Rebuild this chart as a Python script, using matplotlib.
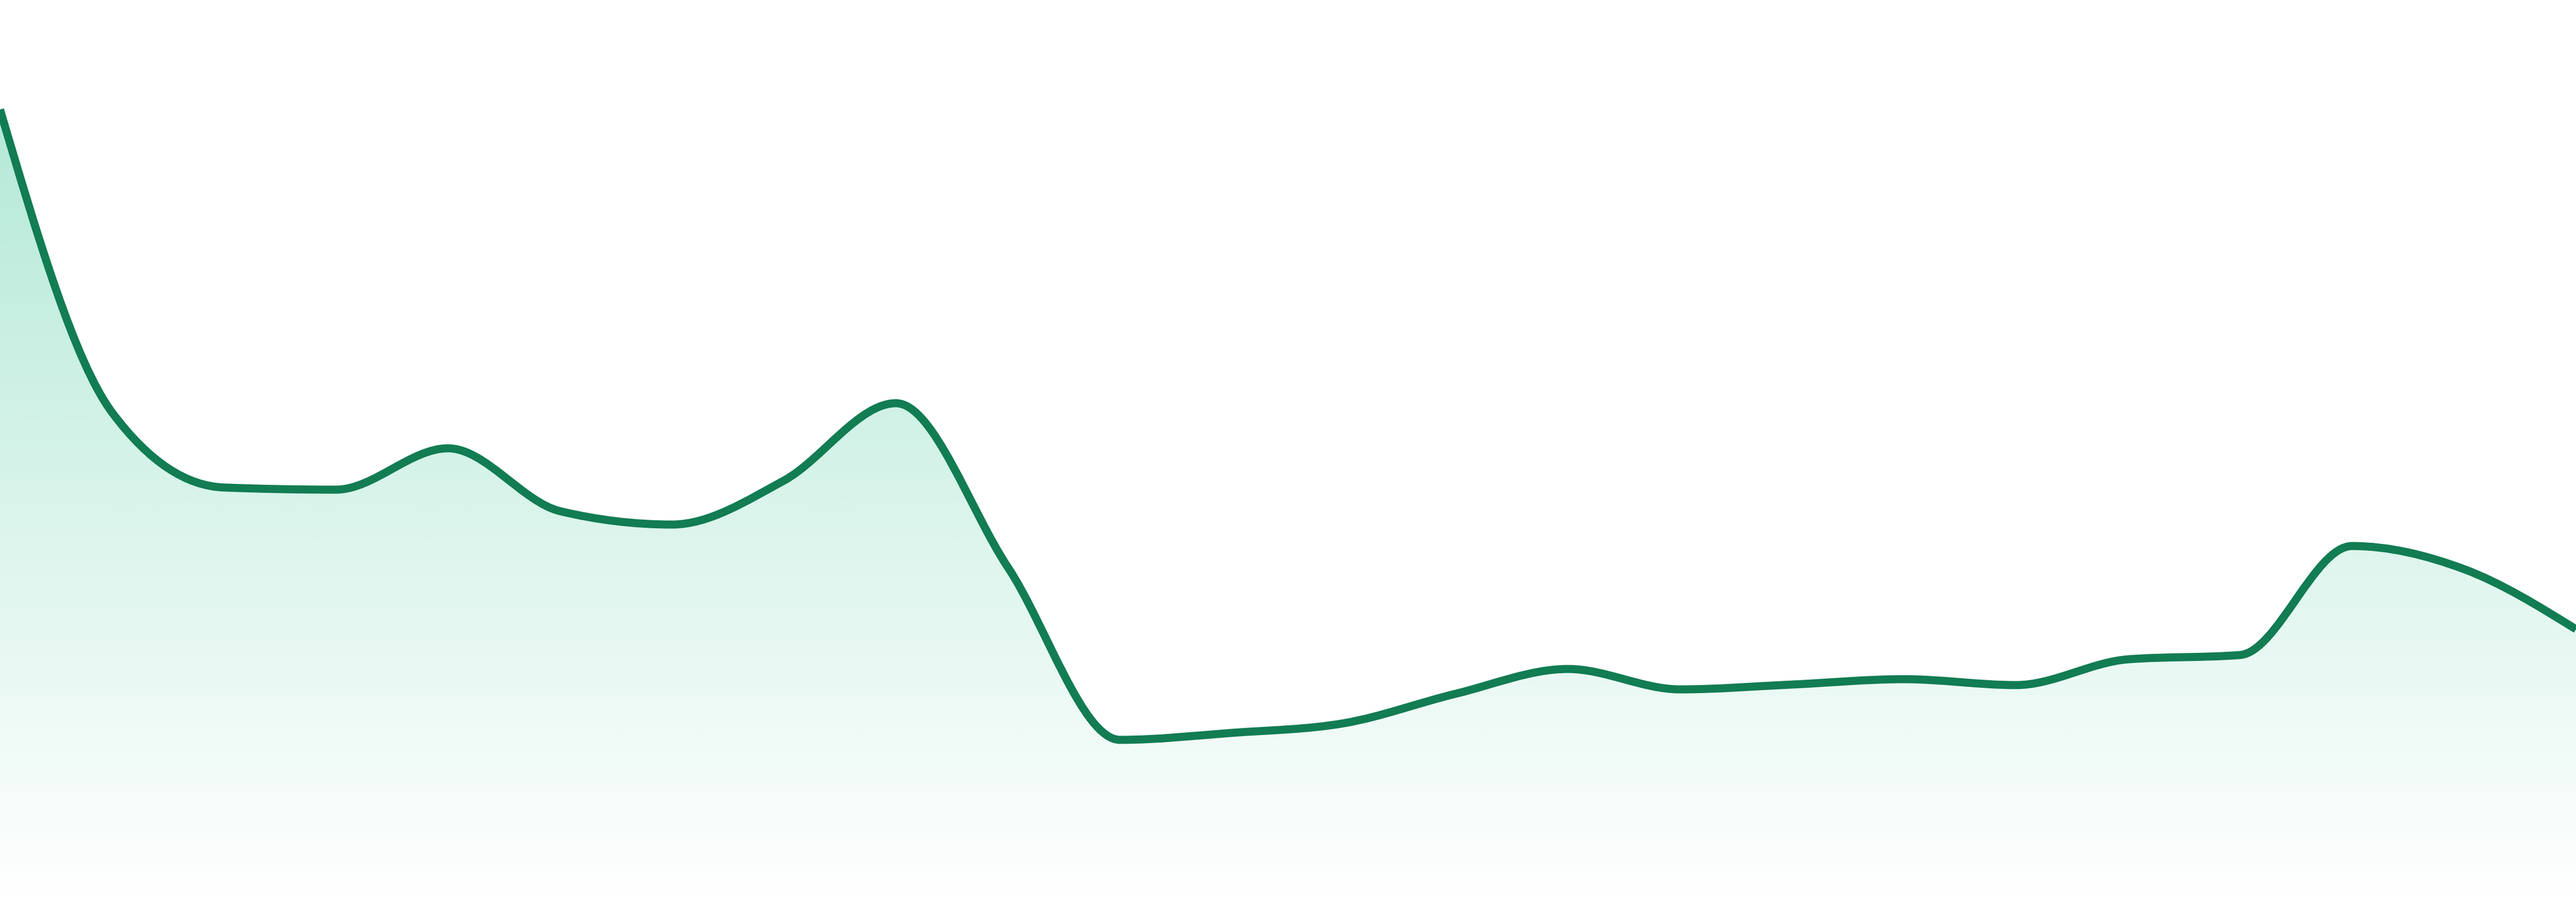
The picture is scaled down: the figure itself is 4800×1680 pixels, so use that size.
import numpy as np
import matplotlib
matplotlib.use("Agg")
import matplotlib.pyplot as plt
from matplotlib.path import Path
from matplotlib.patches import PathPatch

# series (one point per period, evenly spaced)
periods = list(range(24))
values = [147.6, 91.2, 77.2, 76.8, 84.5, 72.8, 70.3, 78.5, 92.9, 62.3,
          30.2, 31.5, 33.3, 38.8, 43.4, 39.6, 40.5, 41.5, 40.4, 45.2,
          46.0, 66.3, 62.0, 50.8]

line_color = "#127c53"
fill_rgb = (16 / 255, 185 / 255, 129 / 255)
y_top = 168.0


def monotone_x_path(xs, ys):
    """Cubic bezier path through the points, d3 curveMonotoneX style."""
    xs = np.asarray(xs, float)
    ys = np.asarray(ys, float)
    n = len(xs)
    h = np.diff(xs)
    s = np.diff(ys) / h
    t = np.zeros(n)
    for i in range(1, n - 1):
        h0, h1 = h[i - 1], h[i]
        s0, s1 = s[i - 1], s[i]
        p = (s0 * h1 + s1 * h0) / (h0 + h1)
        t[i] = (np.sign(s0) + np.sign(s1)) * min(abs(s0), abs(s1), 0.5 * abs(p))
    t[0] = (3 * s[0] - t[1]) / 2
    t[-1] = (3 * s[-1] - t[-2]) / 2
    verts = [(xs[0], ys[0])]
    codes = [Path.MOVETO]
    for i in range(n - 1):
        dx = h[i] / 3
        verts += [(xs[i] + dx, ys[i] + dx * t[i]),
                  (xs[i + 1] - dx, ys[i + 1] - dx * t[i + 1]),
                  (xs[i + 1], ys[i + 1])]
        codes += [Path.CURVE4] * 3
    return verts, codes


fig = plt.figure(figsize=(16, 5.6), dpi=300)
ax = fig.add_axes([0, 0, 1, 1])
ax.set_xlim(periods[0], periods[-1])
ax.set_ylim(0, y_top)
ax.axis("off")

verts, codes = monotone_x_path(periods, values)

# area under the curve, filled with a vertical fade
area_verts = verts + [(periods[-1], 0), (periods[0], 0), (periods[0], values[0])]
area_codes = codes + [Path.LINETO, Path.LINETO, Path.CLOSEPOLY]
area = PathPatch(Path(area_verts, area_codes), facecolor="none", edgecolor="none")
ax.add_patch(area)

ramp = np.linspace(0.36, 0.0, 400).reshape(-1, 1)
grad = np.zeros((400, 1, 4))
grad[..., 0], grad[..., 1], grad[..., 2] = fill_rgb
grad[..., 3] = ramp
img = ax.imshow(grad, extent=[periods[0], periods[-1], 0, y_top],
                aspect="auto", origin="upper", interpolation="bilinear", zorder=1)
img.set_clip_path(area)

line = PathPatch(Path(verts, codes), facecolor="none", edgecolor=line_color,
                 linewidth=3.6, capstyle="butt", joinstyle="round", zorder=2)
ax.add_patch(line)

fig.savefig("out.png", dpi=300, facecolor="white")
